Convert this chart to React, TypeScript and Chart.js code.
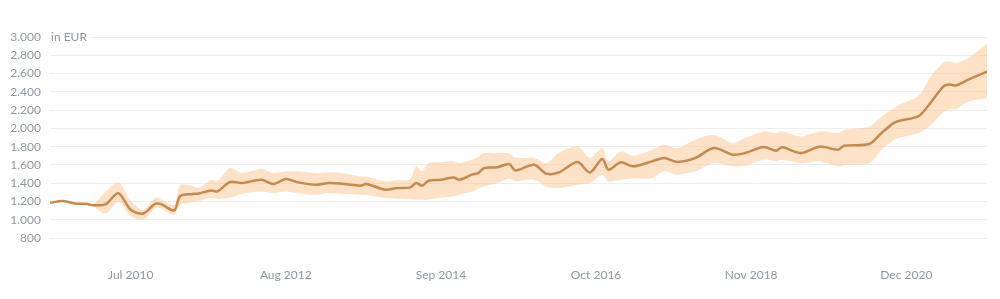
import { useEffect, useRef } from "react";
import { Chart, registerables } from "chart.js";

Chart.register(...registerables);

// Month index: 0 = Jun 2009, 151 = Jan 2022
const months = [
  0, 2, 4, 6, 7, 9, 11, 13, 15, 17, 18, 20, 21, 23, 24, 26, 27, 29, 31, 34,
  36, 38, 40, 43, 45, 47, 50, 51, 54, 56, 58, 59, 60, 61, 63, 65, 66, 68, 69, 70,
  72, 74, 75, 78, 80, 82, 85, 87, 89, 90, 92, 94, 97, 99, 101, 104, 107, 110, 112, 115,
  117, 118, 121, 124, 127, 128, 132, 134, 136, 137, 140, 142, 144, 145, 146, 148, 151,
];
const meanValues = [
  1185, 1205, 1178, 1172, 1158, 1172, 1290, 1110, 1068, 1175, 1168, 1102, 1260, 1282, 1288, 1321, 1310, 1413, 1402, 1438,
  1391, 1446, 1409, 1383, 1402, 1394, 1372, 1391, 1329, 1347, 1351, 1402, 1372, 1427, 1438, 1463, 1438, 1493, 1511, 1566,
  1573, 1610, 1540, 1602, 1504, 1518, 1632, 1518, 1665, 1548, 1628, 1584, 1639, 1676, 1632, 1676, 1785, 1712, 1730, 1796,
  1755, 1792, 1730, 1800, 1767, 1810, 1829, 1949, 2060, 2085, 2135, 2290, 2460, 2480, 2470, 2533, 2620,
];
const lowValues = [
  1175, 1195, 1168, 1160, 1140, 1070, 1195, 1040, 1000, 1130, 1120, 1055, 1160, 1190, 1205, 1240, 1230, 1240, 1285, 1310,
  1292, 1310, 1290, 1274, 1292, 1285, 1274, 1270, 1238, 1230, 1225, 1220, 1220, 1222, 1240, 1256, 1274, 1310, 1340, 1365,
  1400, 1450, 1420, 1438, 1365, 1347, 1383, 1402, 1493, 1420, 1438, 1450, 1457, 1530, 1493, 1530, 1620, 1584, 1590, 1657,
  1640, 1657, 1620, 1639, 1584, 1600, 1621, 1767, 1870, 1900, 1949, 2040, 2180, 2204, 2210, 2295, 2330,
];
const highValues = [
  1195, 1215, 1188, 1185, 1175, 1310, 1410, 1210, 1110, 1240, 1220, 1165, 1380, 1370, 1350, 1438, 1420, 1566, 1511, 1558,
  1511, 1530, 1530, 1510, 1520, 1511, 1474, 1470, 1420, 1435, 1440, 1584, 1530, 1620, 1630, 1639, 1620, 1657, 1690, 1730,
  1730, 1725, 1680, 1676, 1620, 1730, 1803, 1676, 1785, 1640, 1748, 1700, 1766, 1821, 1785, 1876, 1930, 1840, 1894, 1967,
  1949, 1967, 1912, 1967, 1949, 1985, 2021, 2131, 2220, 2260, 2360, 2570, 2720, 2733, 2715, 2770, 2930,
];

const tickMonths = [13, 38, 63, 88, 113, 138];
const tickLabels = ["Jul 2010", "Aug 2012", "Sep 2014", "Oct 2016", "Nov 2018", "Dec 2020"];
const yMin = 800;
const yMax = 3000;
const yStep = 200;
const xMax = 151;
const yTitle = "in EUR";

const LINE = "#c48a4f";
const BAND = "rgba(252,190,130,0.45)";
const TEXT = "#8d98a3";
const GRID = "#eceff2";

const fmt = (v: number) => String(Math.round(v)).replace(/\B(?=(\d{3})+(?!\d))/g, ".");

export default function App() {
  const ref = useRef<HTMLCanvasElement>(null);
  useEffect(() => {
    document.body.style.margin = "0";
    const pts = (arr: number[]) => months.map((m, i) => ({ x: m, y: arr[i] }));
    const titlePlugin = {
      id: "yTitle",
      afterDraw(chart: any) {
        const { ctx, chartArea, scales } = chart;
        const y = scales.y.getPixelForValue(yMax);
        ctx.save();
        ctx.font = "12px Lato";
        const w = ctx.measureText(yTitle).width;
        ctx.fillStyle = "#fff";
        ctx.fillRect(chartArea.left, y - 2, w + 4, 4);
        ctx.fillStyle = TEXT;
        ctx.textBaseline = "middle";
        ctx.fillText(yTitle, chartArea.left + 1, y);
        ctx.restore();
      },
    };
    const chart = new Chart(ref.current!, {
      type: "line",
      data: {
        datasets: [
          {
            data: pts(meanValues),
            borderColor: LINE,
            borderWidth: 2.5,
            pointRadius: 0,
            tension: 0.3,
            fill: false,
          },
          {
            data: pts(lowValues),
            borderColor: "transparent",
            borderWidth: 0,
            pointRadius: 0,
            tension: 0.3,
            fill: false,
          },
          {
            data: pts(highValues),
            borderColor: "transparent",
            borderWidth: 0,
            pointRadius: 0,
            tension: 0.3,
            fill: 1,
            backgroundColor: BAND,
          },
        ],
      },
      options: {
        animation: false,
        responsive: true,
        maintainAspectRatio: false,
        layout: { padding: { top: 37, right: 13, left: 0, bottom: 0 } },
        plugins: { legend: { display: false }, tooltip: { enabled: false } },
        scales: {
          x: {
            type: "linear",
            min: 0,
            max: xMax,
            grid: { display: false, drawTicks: false },
            border: { display: false },
            afterBuildTicks: (s: any) => {
              s.ticks = tickMonths.map((v) => ({ value: v }));
            },
            afterFit: (s: any) => {
              s.height = 61;
            },
            ticks: {
              padding: 30,
              autoSkip: false,
              maxRotation: 0,
              color: TEXT,
              font: { family: "Lato", size: 12 },
              callback: (v: any) => {
                const i = tickMonths.indexOf(Number(v));
                return i >= 0 ? tickLabels[i] : "";
              },
            },
          },
          y: {
            min: yMin,
            max: yMax,
            grid: { color: GRID, drawTicks: false },
            border: { display: false },
            afterFit: (s: any) => {
              s.width = 50;
            },
            ticks: {
              stepSize: yStep,
              padding: 9,
              color: TEXT,
              font: { family: "Lato", size: 12 },
              callback: (v: any) => fmt(Number(v)),
            },
          },
        },
      },
      plugins: [titlePlugin],
    });
    return () => chart.destroy();
  }, []);
  return (
    <div style={{ position: "absolute", left: 0, top: 0, width: 1000, height: 299 }}>
      <canvas ref={ref} />
    </div>
  );
}
